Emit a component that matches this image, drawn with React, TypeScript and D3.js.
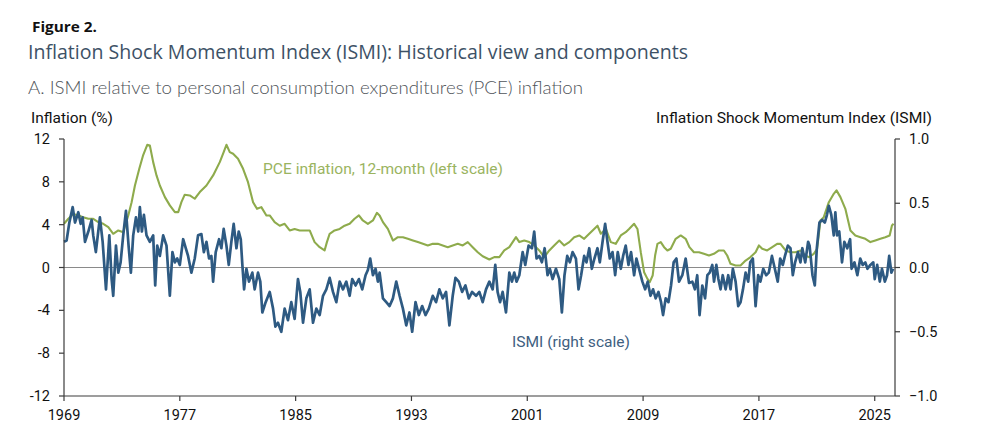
import React from 'react';
import * as d3 from 'd3';

// PCE inflation, 12-month (%)
const pceDates = [
  1969.0, 1969.3, 1969.64, 1970.0, 1970.33, 1970.68, 1971.02, 1971.37, 1971.71, 1972.06,
  1972.4, 1972.75, 1973.09, 1973.44, 1973.67, 1973.9, 1974.2, 1974.47, 1974.75, 1974.93,
  1975.16, 1975.39, 1975.62, 1975.97, 1976.31, 1976.66, 1976.89, 1977.11, 1977.34, 1977.69,
  1978.03, 1978.38, 1978.84, 1979.3, 1979.76, 1980.03, 1980.22, 1980.45, 1980.68, 1981.02,
  1981.37, 1981.71, 1982.06, 1982.33, 1982.63, 1982.98, 1983.21, 1983.55, 1983.9, 1984.24,
  1984.59, 1984.93, 1985.28, 1985.62, 1985.97, 1986.31, 1986.66, 1987.0, 1987.16, 1987.35,
  1987.69, 1988.04, 1988.38, 1988.73, 1989.07, 1989.37, 1989.64, 1989.99, 1990.34, 1990.61,
  1990.8, 1991.03, 1991.37, 1991.72, 1992.06, 1992.41, 1992.75, 1993.1, 1993.44, 1993.79,
  1994.13, 1994.47, 1994.82, 1995.16, 1995.51, 1995.85, 1996.2, 1996.54, 1996.89, 1997.23,
  1997.58, 1997.92, 1998.38, 1998.72, 1999.07, 1999.41, 1999.76, 1999.99, 2000.22, 2000.45,
  2000.79, 2001.14, 2001.48, 2001.83, 2002.17, 2002.52, 2002.86, 2003.21, 2003.55, 2003.9,
  2004.24, 2004.59, 2004.93, 2005.28, 2005.62, 2005.85, 2006.08, 2006.43, 2006.77, 2007.11,
  2007.46, 2007.8, 2008.03, 2008.38, 2008.61, 2008.84, 2009.07, 2009.3, 2009.46, 2009.66,
  2009.83, 2009.99, 2010.22, 2010.45, 2010.68, 2010.91, 2011.25, 2011.6, 2011.94, 2012.2,
  2012.51, 2012.86, 2013.2, 2013.55, 2013.89, 2014.24, 2014.58, 2014.81, 2015.04, 2015.39,
  2015.73, 2016.08, 2016.42, 2016.77, 2017.0, 2017.23, 2017.57, 2017.92, 2018.26, 2018.49,
  2018.84, 2019.18, 2019.53, 2019.87, 2020.22, 2020.45, 2020.79, 2021.02, 2021.25, 2021.48,
  2021.83, 2022.17, 2022.36, 2022.63, 2022.97, 2023.32, 2023.66, 2024.01, 2024.35, 2024.7,
  2025.04, 2025.39, 2025.73, 2026.03, 2026.19, 2026.3,
];
const pceValues = [
  4.08, 4.55, 5.0, 4.86, 4.7, 4.55, 4.55, 4.24, 4.08, 3.77,
  3.15, 3.46, 3.3, 4.86, 6.1, 7.66, 9.22, 10.5, 11.46, 11.4,
  9.84, 8.6, 7.66, 6.57, 5.8, 5.17, 5.17, 6.1, 6.8, 6.73,
  6.42, 7.04, 7.66, 8.6, 9.84, 10.78, 11.46, 10.78, 10.62, 10.16,
  9.22, 7.97, 6.1, 5.48, 5.64, 4.86, 4.86, 4.24, 3.9, 4.08,
  3.46, 3.6, 3.46, 3.46, 3.46, 2.37, 1.9, 1.59, 2.37, 3.15,
  3.46, 3.6, 3.9, 4.08, 4.55, 4.86, 4.39, 4.08, 4.39, 5.1,
  4.86, 4.24, 3.6, 2.52, 2.83, 2.83, 2.68, 2.52, 2.37, 2.21,
  2.06, 2.21, 2.21, 2.06, 1.9, 2.06, 2.21, 2.06, 2.37, 1.9,
  1.43, 1.05, 0.75, 0.97, 0.97, 1.59, 1.9, 2.37, 2.83, 2.37,
  2.52, 2.37, 2.06, 1.59, 0.97, 1.59, 2.06, 2.52, 2.06, 2.37,
  2.83, 2.99, 2.68, 3.15, 3.6, 3.9, 3.15, 3.6, 2.37, 2.21,
  2.99, 3.3, 3.6, 4.08, 3.6, 1.43, -0.44, -1.06, -1.37, -0.75,
  1.12, 2.21, 2.37, 1.9, 1.59, 1.75, 2.68, 2.99, 2.68, 1.9,
  1.43, 1.43, 1.28, 1.12, 1.28, 1.59, 1.59, 1.12, 0.34, 0.19,
  0.19, 0.65, 0.97, 1.43, 2.06, 1.75, 1.59, 1.9, 2.21, 2.21,
  1.59, 1.43, 1.43, 1.59, 1.12, 0.97, 1.28, 1.75, 4.39, 4.7,
  6.1, 6.88, 7.2, 6.57, 5.48, 3.46, 2.99, 2.83, 2.68, 2.37,
  2.52, 2.68, 2.83, 2.99, 3.93, 4.08,
];

// ISMI (right scale)
const ismiDates = [
  1969.0, 1969.18, 1969.37, 1969.6, 1969.76, 1969.99, 1970.15, 1970.29, 1970.45, 1970.68,
  1970.91, 1971.02, 1971.2, 1971.48, 1971.67, 1971.9, 1972.13, 1972.29, 1972.4, 1972.59,
  1972.75, 1972.91, 1973.09, 1973.28, 1973.46, 1973.62, 1973.78, 1973.97, 1974.13, 1974.24,
  1974.38, 1974.52, 1974.7, 1974.93, 1975.16, 1975.3, 1975.44, 1975.62, 1975.85, 1976.08,
  1976.31, 1976.49, 1976.66, 1976.82, 1977.0, 1977.23, 1977.41, 1977.57, 1977.8, 1978.03,
  1978.26, 1978.49, 1978.66, 1978.84, 1979.02, 1979.18, 1979.3, 1979.48, 1979.71, 1979.87,
  1980.03, 1980.22, 1980.38, 1980.56, 1980.72, 1980.91, 1981.07, 1981.21, 1981.32, 1981.44,
  1981.6, 1981.78, 1982.01, 1982.17, 1982.4, 1982.56, 1982.7, 1982.93, 1983.21, 1983.44,
  1983.6, 1983.78, 1984.01, 1984.24, 1984.47, 1984.7, 1984.93, 1985.16, 1985.32, 1985.51,
  1985.74, 1985.97, 1986.2, 1986.43, 1986.66, 1986.89, 1987.12, 1987.35, 1987.58, 1987.81,
  1988.04, 1988.27, 1988.5, 1988.73, 1988.91, 1989.14, 1989.37, 1989.6, 1989.83, 1989.99,
  1990.15, 1990.34, 1990.52, 1990.68, 1990.8, 1991.03, 1991.26, 1991.49, 1991.72, 1991.95,
  1992.18, 1992.41, 1992.64, 1992.86, 1993.05, 1993.28, 1993.51, 1993.74, 1993.97, 1994.2,
  1994.47, 1994.7, 1994.93, 1995.16, 1995.39, 1995.62, 1995.85, 1996.04, 1996.27, 1996.5,
  1996.73, 1996.96, 1997.19, 1997.46, 1997.69, 1997.92, 1998.15, 1998.38, 1998.61, 1998.79,
  1998.95, 1999.12, 1999.3, 1999.53, 1999.76, 1999.94, 2000.1, 2000.26, 2000.45, 2000.68,
  2000.86, 2001.09, 2001.32, 2001.48, 2001.64, 2001.83, 2002.01, 2002.2, 2002.4, 2002.56,
  2002.75, 2002.98, 2003.21, 2003.39, 2003.57, 2003.76, 2003.94, 2004.13, 2004.36, 2004.54,
  2004.72, 2004.93, 2005.09, 2005.28, 2005.46, 2005.64, 2005.85, 2006.01, 2006.2, 2006.38,
  2006.54, 2006.7, 2006.89, 2007.07, 2007.25, 2007.46, 2007.62, 2007.8, 2007.99, 2008.17,
  2008.38, 2008.54, 2008.72, 2008.95, 2009.14, 2009.32, 2009.51, 2009.69, 2009.87, 2010.06,
  2010.24, 2010.38, 2010.56, 2010.75, 2010.93, 2011.11, 2011.3, 2011.48, 2011.71, 2011.94,
  2012.17, 2012.4, 2012.58, 2012.74, 2012.9, 2013.09, 2013.28, 2013.44, 2013.6, 2013.78,
  2013.9, 2014.06, 2014.2, 2014.35, 2014.5, 2014.7, 2014.88, 2015.04, 2015.2, 2015.39,
  2015.57, 2015.73, 2015.9, 2016.08, 2016.26, 2016.4, 2016.58, 2016.77, 2016.95, 2017.1,
  2017.3, 2017.5, 2017.68, 2017.9, 2018.1, 2018.3, 2018.47, 2018.65, 2018.8, 2019.0,
  2019.18, 2019.34, 2019.5, 2019.7, 2019.87, 2020.0, 2020.2, 2020.4, 2020.5, 2020.7,
  2020.86, 2021.0, 2021.18, 2021.37, 2021.55, 2021.7, 2021.83, 2022.0, 2022.17, 2022.28,
  2022.4, 2022.55, 2022.74, 2022.9, 2023.1, 2023.3, 2023.4, 2023.6, 2023.8, 2024.0,
  2024.17, 2024.35, 2024.5, 2024.7, 2024.9, 2025.0, 2025.17, 2025.35, 2025.5, 2025.7,
  2025.85, 2026.0, 2026.15, 2026.27,
];
const ismiValues = [
  0.20, 0.21, 0.35, 0.47, 0.35, 0.43, 0.34, 0.39, 0.20, 0.28,
  0.37, 0.25, 0.12, 0.39, 0.20, -0.17, 0.25, -0.09, -0.22, 0.17,
  -0.04, 0.04, 0.25, 0.44, 0.17, -0.04, 0.25, 0.39, 0.28, 0.47,
  0.28, 0.41, 0.25, 0.20, 0.25, -0.14, 0.17, 0.09, 0.25, 0.17,
  -0.22, 0.12, 0.04, 0.07, 0.02, 0.22, 0.15, 0.09, -0.04, 0.07,
  0.25, 0.26, 0.12, 0.20, 0.07, 0.09, -0.11, 0.12, 0.22, 0.15,
  0.30, 0.17, 0.02, 0.20, 0.34, 0.15, 0.28, 0.22, 0.02, -0.17,
  -0.01, -0.11, -0.04, -0.17, -0.04, -0.11, -0.35, -0.27, -0.19, -0.32,
  -0.46, -0.43, -0.50, -0.32, -0.41, -0.27, -0.40, -0.09, -0.19, -0.43,
  -0.24, -0.17, -0.43, -0.32, -0.37, -0.22, -0.17, -0.08, -0.19, -0.27,
  -0.11, -0.17, -0.11, -0.22, -0.09, -0.14, -0.09, -0.17, -0.06, -0.02,
  0.07, -0.06, -0.01, -0.11, -0.04, -0.24, -0.27, -0.30, -0.24, -0.11,
  -0.22, -0.32, -0.45, -0.35, -0.50, -0.27, -0.37, -0.30, -0.37, -0.32,
  -0.22, -0.27, -0.17, -0.24, -0.19, -0.45, -0.22, -0.08, -0.11, -0.19,
  -0.14, -0.24, -0.19, -0.22, -0.19, -0.27, -0.17, -0.11, -0.17, 0.02,
  -0.19, -0.27, -0.19, -0.35, -0.04, -0.11, -0.04, -0.11, -0.06, 0.12,
  0.02, 0.17, 0.15, 0.28, 0.07, 0.09, 0.04, 0.15, -0.06, -0.01,
  -0.09, -0.01, -0.09, -0.35, -0.06, 0.09, 0.04, 0.12, 0.07, -0.17,
  -0.06, 0.09, 0.04, 0.15, -0.01, 0.07, 0.15, 0.04, 0.20, 0.34,
  0.20, 0.07, 0.12, -0.06, 0.12, -0.01, 0.09, 0.17, 0.02, 0.12,
  -0.06, 0.07, -0.01, -0.11, -0.17, -0.11, -0.22, -0.17, -0.24, -0.19,
  -0.27, -0.37, -0.24, -0.27, -0.14, 0.04, 0.07, -0.11, -0.06, 0.07,
  -0.12, -0.11, -0.17, -0.06, -0.37, -0.14, -0.24, -0.06, -0.04, 0.02,
  -0.11, 0.02, -0.09, -0.17, -0.06, -0.17, -0.06, -0.17, -0.01, -0.11,
  -0.30, -0.27, -0.17, -0.04, -0.11, 0.04, 0.07, -0.30, -0.06, -0.11,
  -0.01, -0.06, -0.04, 0.09, -0.01, -0.11, 0.07, 0.02, 0.09, 0.17,
  0.15, -0.06, 0.04, 0.12, 0.04, 0.15, 0.04, 0.20, 0.17, -0.06,
  -0.14, 0.15, 0.35, 0.37, 0.35, 0.41, 0.48, 0.41, 0.25, 0.43,
  0.25, 0.28, 0.04, 0.20, 0.15, 0.22, -0.01, 0.04, -0.06, 0.07,
  0.02, 0.04, -0.01, 0.02, 0.04, -0.09, 0.02, -0.11, -0.01, -0.11,
  -0.06, 0.09, -0.04, -0.01,
];

const leftTicks = [-12, -8, -4, 0, 4, 8, 12];
const rightTicks = [-1, -0.5, 0, 0.5, 1];
const yearTicks = [1969, 1977, 1985, 1993, 2001, 2009, 2017, 2025];

const W = 1001;
const H = 444;
const plot = { left: 64, right: 895, top: 139, bottom: 396 };

const axisFont = 'Roboto, "Noto Sans", sans-serif';
const axisColor = '#3c3c3c';
const green = '#8eab4c';
const blue = '#2e5a82';

export default function App() {
  const x = d3.scaleLinear().domain([1969, 2026.4]).range([plot.left, plot.right]);
  const yL = d3.scaleLinear().domain([-12, 12]).range([plot.bottom, plot.top]);
  const yR = d3.scaleLinear().domain([-1, 1]).range([plot.bottom, plot.top]);

  const pceLine = d3.line<number>()
    .x((_, i) => x(pceDates[i]))
    .y(d => yL(d));
  const ismiLine = d3.line<number>()
    .x((_, i) => x(ismiDates[i]))
    .y(d => yR(d));

  const fmtR = d3.format('.1f');

  return (
    <svg width={W} height={H} style={{ position: 'absolute', left: 0, top: 0, background: '#fff' }}>
      {/* headings */}
      <text x={32} y={32} fontFamily='"Open Sans", sans-serif' fontWeight={700} fontSize={13.5}
        fill="#111" textLength={65} lengthAdjust="spacingAndGlyphs">Figure 2.</text>
      <text x={28} y={59} fontFamily='"Open Sans", sans-serif' fontSize={20.5} fill="#3d5166"
        textLength={660} lengthAdjust="spacingAndGlyphs">
        Inflation Shock Momentum Index (ISMI): Historical view and components
      </text>
      <text x={28} y={94} fontFamily='Lato, "Open Sans", sans-serif' fontWeight={300} fontSize={18} fill="#4f5459"
        textLength={555} lengthAdjust="spacingAndGlyphs">
        A. ISMI relative to personal consumption expenditures (PCE) inflation
      </text>
      <text x={31} y={123} fontFamily={axisFont} fontSize={14} fill="#111"
        textLength={82} lengthAdjust="spacingAndGlyphs">Inflation (%)</text>
      <text x={656} y={123} fontFamily={axisFont} fontSize={14} fill="#111"
        textLength={276} lengthAdjust="spacingAndGlyphs">Inflation Shock Momentum Index (ISMI)</text>

      {/* zero line */}
      <line x1={plot.left} x2={plot.right} y1={yL(0)} y2={yL(0)} stroke="#8a8a8a" strokeWidth={1.2} />

      {/* lines */}
      <path d={pceLine(pceValues) ?? ''} fill="none" stroke={green} strokeWidth={2.1} strokeLinejoin="round" />
      <path d={ismiLine(ismiValues) ?? ''} fill="none" stroke={blue} strokeWidth={2.7} strokeLinejoin="round" />

      {/* left axis */}
      <line x1={plot.left} x2={plot.left} y1={plot.top} y2={plot.bottom} stroke={axisColor} strokeWidth={1.2} />
      {leftTicks.map(t => (
        <g key={'l' + t}>
          <line x1={plot.left - 5} x2={plot.left} y1={yL(t)} y2={yL(t)} stroke={axisColor} strokeWidth={1.2} />
          <text x={plot.left - 14} y={yL(t) + 5} textAnchor="end" fontFamily={axisFont} fontSize={14.5} fill="#111">{t}</text>
        </g>
      ))}

      {/* right axis */}
      <line x1={plot.right} x2={plot.right} y1={plot.top} y2={plot.bottom} stroke={axisColor} strokeWidth={1.2} />
      {rightTicks.map(t => (
        <g key={'r' + t}>
          <line x1={plot.right} x2={plot.right + 5} y1={yR(t)} y2={yR(t)} stroke={axisColor} strokeWidth={1.2} />
          <text x={plot.right + 14} y={yR(t) + 5} textAnchor="start" fontFamily={axisFont} fontSize={14.5} fill="#111">{fmtR(t)}</text>
        </g>
      ))}

      {/* bottom axis */}
      <line x1={plot.left} x2={plot.right} y1={plot.bottom} y2={plot.bottom} stroke={axisColor} strokeWidth={1.2} />
      {yearTicks.map(t => (
        <g key={'x' + t}>
          <line x1={x(t)} x2={x(t)} y1={plot.bottom} y2={plot.bottom + 5} stroke={axisColor} strokeWidth={1.2} />
          <text x={x(t)} y={plot.bottom + 24} textAnchor="middle" fontFamily={axisFont} fontSize={14.5} fill="#111">{t}</text>
        </g>
      ))}

      {/* series labels */}
      <text x={263} y={174} fontFamily={axisFont} fontSize={14} fill="#9ab45f"
        textLength={240} lengthAdjust="spacingAndGlyphs">PCE inflation, 12-month (left scale)</text>
      <text x={512} y={347} fontFamily={axisFont} fontSize={14} fill="#40607f"
        textLength={118} lengthAdjust="spacingAndGlyphs">ISMI (right scale)</text>
    </svg>
  );
}
